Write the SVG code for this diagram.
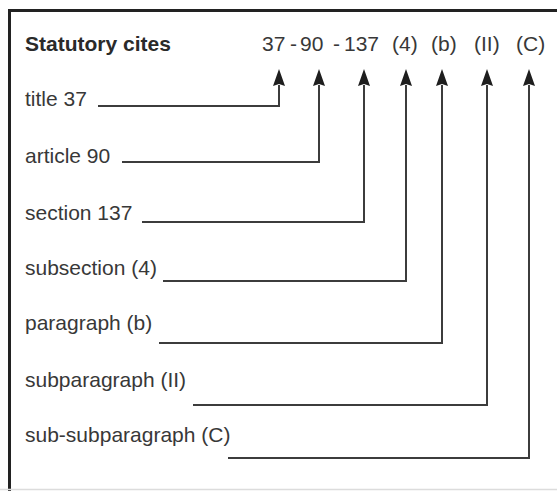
<svg xmlns="http://www.w3.org/2000/svg" width="557" height="491" viewBox="0 0 557 491">
<style>
  text { font-family: "Liberation Sans", Arial, sans-serif; font-size: 21px; fill: #383838; }
  .head { font-weight: bold; fill: #2a2a2a; }
  .conn { fill: none; stroke: #3c3c3c; stroke-width: 2; marker-end: url(#arr); }
</style>
<defs>
  <marker id="arr" viewBox="0 0 17 12" refX="1" refY="6" markerWidth="17" markerHeight="12" markerUnits="userSpaceOnUse" orient="auto">
    <path d="M0,0 L17,6 L0,12 L2,6 z" fill="#1e1e1e"/>
  </marker>
</defs>
<rect width="557" height="491" fill="#ffffff"/>
<g id="frame">
  <path d="M9.5,491 V10.5 H557" fill="none" stroke="#222" stroke-width="3"/>
  <line x1="0" y1="489.5" x2="557" y2="489.5" stroke="#dcdcdc" stroke-width="1.5"/>
</g>
<g id="header">
  <text class="head" x="25" y="51">Statutory cites</text>
  <text x="262" y="51">37</text>
  <text x="290" y="51">-</text>
  <text x="300" y="51">90</text>
  <text x="333" y="51">-</text>
  <text x="344" y="51">137</text>
  <text x="392" y="51">(4)</text>
  <text x="431" y="51">(b)</text>
  <text x="474" y="51">(II)</text>
  <text x="516" y="51">(C)</text>
</g>
<g id="title"><text x="25" y="106">title 37</text></g>
<g id="article"><text x="25" y="163">article 90</text></g>
<g id="section"><text x="25" y="220">section 137</text></g>
<g id="subsection"><text x="25" y="275">subsection (4)</text></g>
<g id="paragraph"><text x="25" y="330">paragraph (b)</text></g>
<g id="subparagraph"><text x="25" y="387">subparagraph (II)</text></g>
<g id="subsubparagraph"><text x="25" y="442">sub-subparagraph (C)</text></g>
<g id="connectors">
  <path class="conn" d="M98,106 H279 V85"/>
  <path class="conn" d="M122,162 H319 V85"/>
  <path class="conn" d="M142,222 H364 V85"/>
  <path class="conn" d="M163,281 H406 V85"/>
  <path class="conn" d="M159,343 H442 V85"/>
  <path class="conn" d="M193,405 H487 V85"/>
  <path class="conn" d="M228,458 H529 V85"/>
</g>
</svg>
